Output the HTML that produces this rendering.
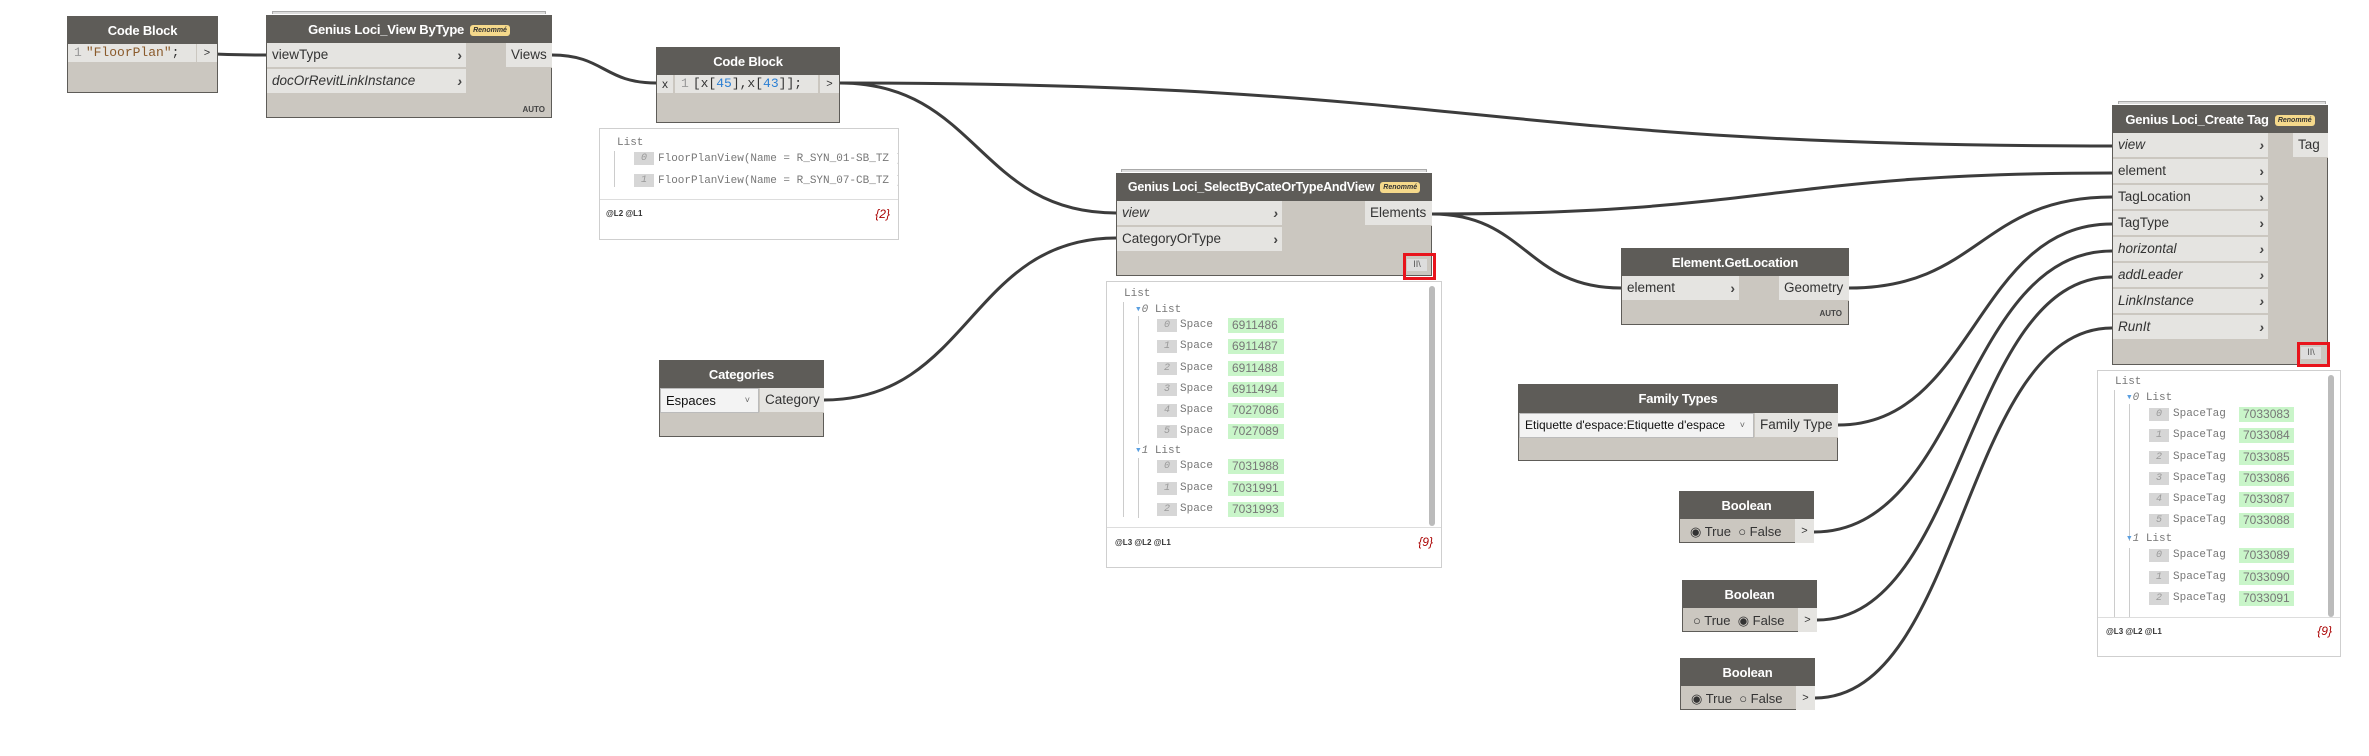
<!DOCTYPE html>
<html><head><meta charset="utf-8">
<style>
*{box-sizing:border-box;margin:0;padding:0}
body{width:2369px;height:756px;background:#fff;position:relative;overflow:hidden;font-family:"Liberation Sans",sans-serif;color:#333}
.a{position:absolute;white-space:nowrap}
.node{position:absolute;background:#cbc7c0;border:1px solid #5e5c58}
.hd{position:absolute;left:0;right:0;top:0;background:#5e5c58;color:#fff;font-weight:bold;font-size:13px;text-align:center;white-space:nowrap;overflow:hidden;letter-spacing:-0.2px}
.row{position:absolute;background:#e5e4e1;font-size:13.5px;line-height:1;display:flex;align-items:center;padding-left:5px;border-bottom:1px solid #cbc7c0;white-space:nowrap}
.i{font-style:italic}
.chev{position:absolute;right:4px;font-weight:bold;font-size:14px;color:#444}
.auto{position:absolute;right:6px;font-size:8px;font-weight:bold;color:#444}
.badge{display:inline-block;background:#f5d98b;color:#333;font-size:7px;font-style:italic;border-radius:3px;padding:0 3px;margin-left:6px;vertical-align:middle;font-weight:bold;line-height:11px;height:11px;letter-spacing:0}
.stack{position:absolute;height:3px;border-top:1px solid #aaa;border-left:1px solid #aaa;border-right:1px solid #aaa;background:#ddd}
.pv{position:absolute;border:1px solid #cfcfcf;background:#fff;font-family:"Liberation Mono",monospace;font-size:11px;color:#777;overflow:hidden}
.ix{position:absolute;background:#d6d6d6;color:#999;font-style:italic;width:20px;text-align:center;font-size:10px;height:13px;line-height:13px}
.gr{position:absolute;background:#c9f5c9;color:#777;height:15px;line-height:15px;padding-left:4px;font-size:12px;font-family:"Liberation Sans",sans-serif}
.red{position:absolute;border:3px solid #e8141c}
.ft{position:absolute;font-size:8px;font-weight:bold;color:#333;font-family:"Liberation Sans",sans-serif;white-space:nowrap}
.cnt{position:absolute;font-style:italic;color:#a00;font-size:12px;font-family:"Liberation Sans",sans-serif}
.vl{position:absolute;width:1px;background:#ccc}
</style></head><body>

<svg class="a" style="left:0;top:0" width="2369" height="756">
<g fill="none" stroke="#3c3c3c" stroke-width="3">
<path d="M129 52 C200 52 200 55 266 55"/>
<path d="M552 55 C604 55 604 83 656 83"/>
<path d="M840 83 C978 83 978 213 1116 213"/>
<path d="M840 83 C1476 83 1476 146 2112 146"/>
<path d="M824 400 C970 400 970 238 1116 238"/>
<path d="M1432 214 C1772 214 1772 173 2112 173"/>
<path d="M1432 214 C1526 214 1526 288 1621 288"/>
<path d="M1849 288 C1980 288 1980 197 2112 197"/>
<path d="M1838 425 C1975 425 1975 224 2112 224"/>
<path d="M1814 532 C1963 532 1963 251 2112 251"/>
<path d="M1817 620 C1965 620 1965 277 2112 277"/>
<path d="M1815 698 C1963 698 1963 328 2112 328"/>
</g></svg>

<!-- Code Block 1 -->
<div class="node" style="left:67px;top:16px;width:151px;height:77px">
<div class="hd" style="height:27px;line-height:27px">Code Block</div>
<div class="a" style="left:0;top:27px;width:128px;height:18px;background:#e5e4e1;font-family:'Liberation Mono',monospace;font-size:13px;line-height:18px"><span style="color:#999;padding:0 4px 0 6px">1</span><span style="color:#8a5a2b">"FloorPlan"</span>;</div>
<div class="a" style="left:129px;top:27px;width:20px;height:18px;background:#e5e4e1;font-size:11px;line-height:18px;text-align:center">&gt;</div>
</div>

<!-- View ByType -->
<div class="stack" style="left:272px;top:11px;width:274px"></div>
<div class="node" style="left:266px;top:15px;width:286px;height:103px">
<div class="hd" style="height:27px;line-height:27px">Genius Loci_View ByType<span class="badge">Renommé</span></div>
<div class="row" style="left:0;top:27px;width:199px;height:25px">viewType<span class="chev">›</span></div>
<div class="row i" style="left:0;top:53px;width:199px;height:25px">docOrRevitLinkInstance<span class="chev">›</span></div>
<div class="row" style="left:239px;top:27px;width:46px;height:25px">Views</div>
<div class="auto" style="top:89px">AUTO</div>
</div>

<!-- Code Block 2 -->
<div class="node" style="left:656px;top:47px;width:184px;height:76px">
<div class="hd" style="height:27px;line-height:27px">Code Block</div>
<div class="a" style="left:0;top:27px;width:16px;height:18px;background:#e5e4e1;font-size:12px;line-height:18px;text-align:center">x</div>
<div class="a" style="left:18px;top:27px;width:143px;height:18px;background:#e5e4e1;font-family:'Liberation Mono',monospace;font-size:13px;line-height:18px"><span style="color:#999;padding:0 4px 0 6px">1</span>[x[<span style="color:#2a7fd4">45</span>],x[<span style="color:#2a7fd4">43</span>]];</div>
<div class="a" style="left:163px;top:27px;width:19px;height:18px;background:#e5e4e1;font-size:11px;line-height:18px;text-align:center">&gt;</div>
</div>
<div class="pv" style="left:599px;top:128px;width:300px;height:112px">
<div class="a" style="left:17px;top:8px">List</div>
<div class="vl" style="left:14px;top:22px;height:36px"></div>
<div class="ix" style="left:34px;top:23px">0</div><div class="a" style="left:58px;top:24px">FloorPlanView(Name = R_SYN_01-SB_TZ )</div>
<div class="ix" style="left:34px;top:45px">1</div><div class="a" style="left:58px;top:46px">FloorPlanView(Name = R_SYN_07-CB_TZ )</div>
<div class="a" style="left:0;top:70px;width:298px;border-top:1px solid #ddd"></div>
<div class="ft" style="left:6px;top:80px">@L2 @L1</div>
<div class="cnt" style="right:8px;top:78px">{2}</div>
</div>

<!-- SelectBy -->
<div class="stack" style="left:1121px;top:169px;width:306px"></div>
<div class="node" style="left:1116px;top:173px;width:316px;height:103px">
<div class="hd" style="height:27px;line-height:27px;font-size:12.5px">Genius Loci_SelectByCateOrTypeAndView<span class="badge">Renommé</span></div>
<div class="row i" style="left:0;top:27px;width:165px;height:25px">view<span class="chev">›</span></div>
<div class="row" style="left:0;top:53px;width:165px;height:25px">CategoryOrType<span class="chev">›</span></div>
<div class="row" style="left:248px;top:27px;width:67px;height:25px">Elements</div>
<div class="a" style="left:290px;top:85px;width:20px;height:12px;background:#ddd;font-size:9px;text-align:center;color:#555">II\</div>
</div>
<div class="red" style="left:1403px;top:253px;width:33px;height:27px"></div>
<div class="pv" style="left:1106px;top:281px;width:336px;height:287px">
<div class="a" style="left:17px;top:6px">List</div>
<div class="vl" style="left:16px;top:20px;height:215px"></div>
<div class="vl" style="left:31px;top:34px;height:128px"></div>
<div class="vl" style="left:31px;top:176px;height:60px"></div>
<div class="a" style="left:28px;top:20px"><span style="color:#5a9fe0">▾</span><i>0</i> List</div>
<div class="a" style="left:28px;top:161px"><span style="color:#5a9fe0">▾</span><i>1</i> List</div>
<div class="a" style="right:6px;top:4px;width:6px;height:240px;background:#bbb;border-radius:3px"></div>
<div class="ix" style="left:50px;top:37px">0</div><div class="a" style="left:73px;top:37px">Space</div><div class="gr" style="left:121px;top:36px;width:56px">6911486</div>
<div class="ix" style="left:50px;top:58px">1</div><div class="a" style="left:73px;top:58px">Space</div><div class="gr" style="left:121px;top:57px;width:56px">6911487</div>
<div class="ix" style="left:50px;top:80px">2</div><div class="a" style="left:73px;top:80px">Space</div><div class="gr" style="left:121px;top:79px;width:56px">6911488</div>
<div class="ix" style="left:50px;top:101px">3</div><div class="a" style="left:73px;top:101px">Space</div><div class="gr" style="left:121px;top:100px;width:56px">6911494</div>
<div class="ix" style="left:50px;top:122px">4</div><div class="a" style="left:73px;top:122px">Space</div><div class="gr" style="left:121px;top:121px;width:56px">7027086</div>
<div class="ix" style="left:50px;top:143px">5</div><div class="a" style="left:73px;top:143px">Space</div><div class="gr" style="left:121px;top:142px;width:56px">7027089</div>
<div class="ix" style="left:50px;top:178px">0</div><div class="a" style="left:73px;top:178px">Space</div><div class="gr" style="left:121px;top:177px;width:56px">7031988</div>
<div class="ix" style="left:50px;top:200px">1</div><div class="a" style="left:73px;top:200px">Space</div><div class="gr" style="left:121px;top:199px;width:56px">7031991</div>
<div class="ix" style="left:50px;top:221px">2</div><div class="a" style="left:73px;top:221px">Space</div><div class="gr" style="left:121px;top:220px;width:56px">7031993</div>
<div class="a" style="left:0;top:245px;width:334px;border-top:1px solid #ddd"></div>
<div class="ft" style="left:8px;top:256px">@L3 @L2 @L1</div>
<div class="cnt" style="right:8px;top:253px">{9}</div>
</div>

<!-- Categories -->
<div class="node" style="left:659px;top:360px;width:165px;height:77px">
<div class="hd" style="height:27px;line-height:27px">Categories</div>
<div class="a" style="left:0;top:27px;width:99px;height:25px;background:#f3f3f3;border:1px solid #bbb;font-size:13px;line-height:23px;padding-left:5px;color:#111">Espaces<span style="position:absolute;right:8px;font-size:9px;color:#666">˅</span></div>
<div class="row" style="left:100px;top:27px;width:64px;height:25px">Category</div>
</div>

<!-- GetLocation -->
<div class="node" style="left:1621px;top:248px;width:228px;height:77px">
<div class="hd" style="height:27px;line-height:27px">Element.GetLocation</div>
<div class="row" style="left:0;top:27px;width:117px;height:25px">element<span class="chev">›</span></div>
<div class="row" style="left:157px;top:27px;width:70px;height:25px">Geometry</div>
<div class="auto" style="top:60px">AUTO</div>
</div>

<!-- Family Types -->
<div class="node" style="left:1518px;top:384px;width:320px;height:77px">
<div class="hd" style="height:28px;line-height:28px">Family Types</div>
<div class="a" style="left:0;top:28px;width:235px;height:25px;background:#f3f3f3;border:1px solid #bbb;font-size:12px;line-height:23px;padding-left:5px;color:#111">Etiquette d'espace:Etiquette d'espace<span style="position:absolute;right:8px;font-size:9px;color:#666">˅</span></div>
<div class="row" style="left:236px;top:28px;width:83px;height:25px">Family Type</div>
</div>

<!-- Booleans -->
<div class="node" style="left:1679px;top:491px;width:135px;height:52px">
<div class="hd" style="height:27px;line-height:27px">Boolean</div>
<div class="a" style="left:10px;top:32px;font-size:13px">◉ True&nbsp;&nbsp;○ False</div>
<div class="a" style="left:115px;top:27px;width:19px;height:24px;background:#e5e4e1;font-size:11px;line-height:24px;text-align:center">&gt;</div>
</div>
<div class="node" style="left:1682px;top:580px;width:135px;height:52px">
<div class="hd" style="height:27px;line-height:27px">Boolean</div>
<div class="a" style="left:10px;top:32px;font-size:13px">○ True&nbsp;&nbsp;◉ False</div>
<div class="a" style="left:115px;top:27px;width:19px;height:24px;background:#e5e4e1;font-size:11px;line-height:24px;text-align:center">&gt;</div>
</div>
<div class="node" style="left:1680px;top:658px;width:135px;height:52px">
<div class="hd" style="height:27px;line-height:27px">Boolean</div>
<div class="a" style="left:10px;top:32px;font-size:13px">◉ True&nbsp;&nbsp;○ False</div>
<div class="a" style="left:115px;top:27px;width:19px;height:24px;background:#e5e4e1;font-size:11px;line-height:24px;text-align:center">&gt;</div>
</div>

<!-- Create Tag -->
<div class="stack" style="left:2118px;top:101px;width:208px"></div>
<div class="node" style="left:2112px;top:105px;width:216px;height:260px">
<div class="hd" style="height:27px;line-height:27px">Genius Loci_Create Tag<span class="badge">Renommé</span></div>
<div class="row i" style="left:0;top:27px;width:155px;height:25px">view<span class="chev">›</span></div>
<div class="row" style="left:0;top:53px;width:155px;height:25px">element<span class="chev">›</span></div>
<div class="row" style="left:0;top:79px;width:155px;height:25px">TagLocation<span class="chev">›</span></div>
<div class="row" style="left:0;top:105px;width:155px;height:25px">TagType<span class="chev">›</span></div>
<div class="row i" style="left:0;top:131px;width:155px;height:25px">horizontal<span class="chev">›</span></div>
<div class="row i" style="left:0;top:157px;width:155px;height:25px">addLeader<span class="chev">›</span></div>
<div class="row i" style="left:0;top:183px;width:155px;height:25px">LinkInstance<span class="chev">›</span></div>
<div class="row i" style="left:0;top:209px;width:155px;height:25px">RunIt<span class="chev">›</span></div>
<div class="row" style="left:180px;top:27px;width:35px;height:25px">Tag</div>
<div class="a" style="left:188px;top:241px;width:20px;height:12px;background:#ddd;font-size:9px;text-align:center;color:#555">II\</div>
</div>
<div class="red" style="left:2297px;top:342px;width:33px;height:25px"></div>
<div class="pv" style="left:2097px;top:370px;width:244px;height:287px">
<div class="a" style="left:17px;top:5px">List</div>
<div class="vl" style="left:16px;top:19px;height:228px"></div>
<div class="vl" style="left:31px;top:33px;height:137px"></div>
<div class="vl" style="left:31px;top:177px;height:70px"></div>
<div class="a" style="left:28px;top:19px"><span style="color:#5a9fe0">▾</span><i>0</i> List</div>
<div class="a" style="left:28px;top:160px"><span style="color:#5a9fe0">▾</span><i>1</i> List</div>
<div class="a" style="right:6px;top:4px;width:6px;height:242px;background:#bbb;border-radius:3px"></div>
<div class="ix" style="left:51px;top:37px">0</div><div class="a" style="left:75px;top:37px">SpaceTag</div><div class="gr" style="left:141px;top:36px;width:55px">7033083</div>
<div class="ix" style="left:51px;top:58px">1</div><div class="a" style="left:75px;top:58px">SpaceTag</div><div class="gr" style="left:141px;top:57px;width:55px">7033084</div>
<div class="ix" style="left:51px;top:80px">2</div><div class="a" style="left:75px;top:80px">SpaceTag</div><div class="gr" style="left:141px;top:79px;width:55px">7033085</div>
<div class="ix" style="left:51px;top:101px">3</div><div class="a" style="left:75px;top:101px">SpaceTag</div><div class="gr" style="left:141px;top:100px;width:55px">7033086</div>
<div class="ix" style="left:51px;top:122px">4</div><div class="a" style="left:75px;top:122px">SpaceTag</div><div class="gr" style="left:141px;top:121px;width:55px">7033087</div>
<div class="ix" style="left:51px;top:143px">5</div><div class="a" style="left:75px;top:143px">SpaceTag</div><div class="gr" style="left:141px;top:142px;width:55px">7033088</div>
<div class="ix" style="left:51px;top:178px">0</div><div class="a" style="left:75px;top:178px">SpaceTag</div><div class="gr" style="left:141px;top:177px;width:55px">7033089</div>
<div class="ix" style="left:51px;top:200px">1</div><div class="a" style="left:75px;top:200px">SpaceTag</div><div class="gr" style="left:141px;top:199px;width:55px">7033090</div>
<div class="ix" style="left:51px;top:221px">2</div><div class="a" style="left:75px;top:221px">SpaceTag</div><div class="gr" style="left:141px;top:220px;width:55px">7033091</div>
<div class="a" style="left:0;top:246px;width:242px;border-top:1px solid #ddd"></div>
<div class="ft" style="left:8px;top:256px">@L3 @L2 @L1</div>
<div class="cnt" style="right:8px;top:253px">{9}</div>
</div>

</body></html>
